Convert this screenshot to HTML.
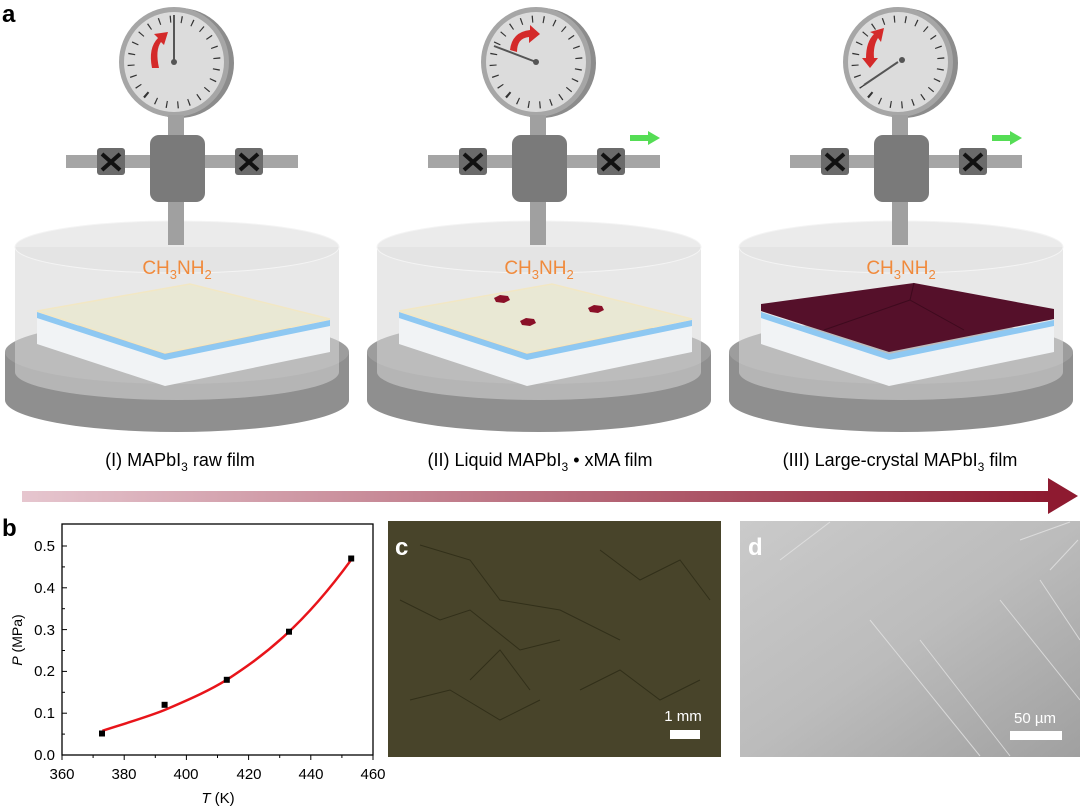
<!DOCTYPE html>
<html><head><meta charset="utf-8"><style>
html,body{margin:0;padding:0;background:#fff;}
svg{display:block;font-family:"Liberation Sans",sans-serif;}
</style></head><body>
<svg width="1080" height="808" viewBox="0 0 1080 808" xmlns="http://www.w3.org/2000/svg">
<defs>
<linearGradient id="ag" x1="0" x2="1" y1="0" y2="0">
<stop offset="0" stop-color="#e6c6cf"/><stop offset="1" stop-color="#8e1a30"/>
</linearGradient>
<linearGradient id="dg" x1="0" y1="0" x2="1" y2="1">
<stop offset="0" stop-color="#cacaca"/><stop offset="0.5" stop-color="#bcbcbc"/><stop offset="1" stop-color="#a0a0a0"/>
</linearGradient>
<g id="base">
  <path d="M5,352 L5,400 A172,32 0 0 0 349,400 L349,352 Z" fill="#8f8f8f"/>
  <ellipse cx="177" cy="352" rx="172" ry="32" fill="#9d9d9d"/>
  <path d="M15,247 L15,372 A162,28 0 0 0 339,372 L339,247 Z" fill="#d6d6d6" fill-opacity="0.55"/>
  <ellipse cx="177" cy="247" rx="162" ry="26" fill="#e2e2e2" fill-opacity="0.7" stroke="#f4f4f4" stroke-width="1"/>
  <circle cx="179" cy="63" r="55" fill="#8c8c8c"/>
  <circle cx="174" cy="62" r="55" fill="#a6a6a6"/>
  <circle cx="174" cy="62" r="50" fill="#dcdcdc"/>
  <circle cx="174" cy="62" r="43" fill="none" stroke="#333" stroke-width="7" stroke-dasharray="1.2 10" transform="rotate(130 174 62)"/>
  <rect x="168" y="115" width="16" height="25" fill="#a0a0a0"/>
  <rect x="66" y="155" width="232" height="13" fill="#a5a5a5"/>
  <rect x="97" y="148" width="28" height="27" rx="3" fill="#6b6b6b"/>
  <rect x="235" y="148" width="28" height="27" rx="3" fill="#6b6b6b"/>
  <path d="M102,154 L120,170 M120,154 L102,170 M240,154 L258,170 M258,154 L240,170" stroke="#111" stroke-width="4"/>
  <rect x="150" y="135" width="55" height="67" rx="9" fill="#7a7a7a"/>
  <rect x="168" y="202" width="16" height="43" fill="#a0a0a0"/>
  <path d="M37,316 L165,358 L330,324 L330,352 L165,386 L37,344 Z" fill="#f1f3f5"/>
  <path d="M37,312 L165,354 L330,320 L330,326 L165,360 L37,318 Z" fill="#8ec8f2"/>
</g>
</defs>

<text x="2" y="22" font-size="24" font-weight="bold">a</text>

<use href="#base"/>
<path d="M37,311 L190,284 L330,319 L165,353 Z" fill="#e9e8d4" stroke="#f2e7c4" stroke-width="1.5"/>
<line x1="174" y1="62" x2="174" y2="15" stroke="#555" stroke-width="2"/>
<circle cx="174" cy="62" r="3" fill="#555"/>
<path d="M152,68 Q148,48 158,38 L154,34 L168,32 L164,45 L161,42 Q155,50 159,68 Z" fill="#d42a2a"/>
<text x="177" y="274" font-size="19" fill="#f08a3c" text-anchor="middle">CH<tspan font-size="13" dy="5">3</tspan><tspan dy="-5">NH</tspan><tspan font-size="13" dy="5">2</tspan></text>
<text x="180" y="466" font-size="18" text-anchor="middle">(I) MAPbI<tspan font-size="12" dy="5">3</tspan><tspan dy="-5"> raw film</tspan></text>

<g transform="translate(362,0)">
<use href="#base"/>
<path d="M37,311 L190,284 L330,319 L165,353 Z" fill="#e9e8d4" stroke="#f2e7c4" stroke-width="1.5"/>
<line x1="174" y1="62" x2="132" y2="46" stroke="#555" stroke-width="2"/>
<circle cx="174" cy="62" r="3" fill="#555"/>
<path d="M148,50 Q150,32 168,30 L168,25 L178,34 L167,43 L167,37 Q155,38 155,52 Z" fill="#d42a2a"/>
<path d="M132,298 l6,-3 l8,1 l2,4 l-6,3 l-8,-1 Z" fill="#8a1028"/>
<path d="M226,308 l6,-3 l8,1 l2,4 l-6,3 l-8,-1 Z" fill="#8a1028"/>
<path d="M158,321 l6,-3 l8,1 l2,4 l-6,3 l-8,-1 Z" fill="#8a1028"/>
<rect x="268" y="135" width="20" height="6" fill="#55dd55"/><path d="M286,131 L298,138 L286,145 Z" fill="#55dd55"/>
<text x="177" y="274" font-size="19" fill="#f08a3c" text-anchor="middle">CH<tspan font-size="13" dy="5">3</tspan><tspan dy="-5">NH</tspan><tspan font-size="13" dy="5">2</tspan></text>
<text x="178" y="466" font-size="18" text-anchor="middle">(II) Liquid MAPbI<tspan font-size="12" dy="5">3</tspan><tspan dy="-5"> • xMA film</tspan></text>
</g>

<g transform="translate(724,0)">
<use href="#base"/>
<path d="M37,304 L190,283 L330,309 L330,319 L165,352 L37,311 Z" fill="#55102a"/>
<path d="M190,283 L186,300 L240,330 M186,300 L100,330" stroke="#3e0a1e" stroke-width="1" fill="none"/>
<line x1="174" y1="62" x2="140" y2="85" stroke="#555" stroke-width="2"/>
<circle cx="178" cy="60" r="3" fill="#555"/>
<path d="M142,58 Q142,42 150,34 L146,32 L160,28 L157,42 L154,38 Q149,46 150,58 L154,58 L146,68 L138,58 Z" fill="#d42a2a"/>
<rect x="268" y="135" width="20" height="6" fill="#55dd55"/><path d="M286,131 L298,138 L286,145 Z" fill="#55dd55"/>
<text x="177" y="274" font-size="19" fill="#f08a3c" text-anchor="middle">CH<tspan font-size="13" dy="5">3</tspan><tspan dy="-5">NH</tspan><tspan font-size="13" dy="5">2</tspan></text>
<text x="176" y="466" font-size="18" text-anchor="middle">(III) Large-crystal MAPbI<tspan font-size="12" dy="5">3</tspan><tspan dy="-5"> film</tspan></text>
</g>

<rect x="22" y="491" width="1030" height="11" fill="url(#ag)"/>
<path d="M1048,478 L1078,496 L1048,514 Z" fill="#8e1a30"/>

<text x="2" y="536" font-size="24" font-weight="bold">b</text>
<rect x="62" y="524" width="311" height="231" fill="none" stroke="#000" stroke-width="1.3"/>
<g stroke="#000" stroke-width="1">
<line x1="62" y1="755" x2="67" y2="755"/><line x1="62" y1="713.2" x2="67" y2="713.2"/><line x1="62" y1="671.4" x2="67" y2="671.4"/><line x1="62" y1="629.6" x2="67" y2="629.6"/><line x1="62" y1="587.8" x2="67" y2="587.8"/><line x1="62" y1="546" x2="67" y2="546"/>
<line x1="62" y1="734.1" x2="65" y2="734.1"/><line x1="62" y1="692.3" x2="65" y2="692.3"/><line x1="62" y1="650.5" x2="65" y2="650.5"/><line x1="62" y1="608.7" x2="65" y2="608.7"/><line x1="62" y1="566.9" x2="65" y2="566.9"/>
<line x1="62" y1="755" x2="62" y2="760"/><line x1="124.2" y1="755" x2="124.2" y2="760"/><line x1="186.4" y1="755" x2="186.4" y2="760"/><line x1="248.6" y1="755" x2="248.6" y2="760"/><line x1="310.8" y1="755" x2="310.8" y2="760"/><line x1="373" y1="755" x2="373" y2="760"/>
<line x1="93.1" y1="755" x2="93.1" y2="758"/><line x1="155.3" y1="755" x2="155.3" y2="758"/><line x1="217.5" y1="755" x2="217.5" y2="758"/><line x1="279.7" y1="755" x2="279.7" y2="758"/><line x1="341.9" y1="755" x2="341.9" y2="758"/>
</g>
<g font-size="15" text-anchor="end">
<text x="55" y="760">0.0</text><text x="55" y="718">0.1</text><text x="55" y="676">0.2</text><text x="55" y="635">0.3</text><text x="55" y="593">0.4</text><text x="55" y="551">0.5</text>
</g>
<g font-size="15" text-anchor="middle">
<text x="62" y="779">360</text><text x="124" y="779">380</text><text x="186" y="779">400</text><text x="249" y="779">420</text><text x="311" y="779">440</text><text x="373" y="779">460</text>
</g>
<text x="218" y="803" font-size="15" text-anchor="middle"><tspan font-style="italic">T</tspan> (K)</text>
<text transform="translate(22,640) rotate(-90)" font-size="14" text-anchor="middle"><tspan font-style="italic">P</tspan> (MPa)</text>
<path d="M102.4,730.8 C130,722 150,716 164.6,710 C195,697 210,690 226.8,679.8 C260,658 300,630 351.2,559.8" fill="none" stroke="#e8141a" stroke-width="2.5"/>
<g fill="#000">
<rect x="99" y="730.5" width="6" height="6"/><rect x="161.6" y="701.8" width="6" height="6"/><rect x="223.8" y="676.8" width="6" height="6"/><rect x="286" y="628.7" width="6" height="6"/><rect x="348.2" y="555.5" width="6" height="6"/>
</g>

<rect x="388" y="521" width="333" height="236" fill="#48442a"/>
<g stroke="#2c2a15" stroke-width="1" fill="none" opacity="0.8">
<path d="M420,545 L470,560 L500,600 L560,610 L620,640"/>
<path d="M400,600 L440,620 L470,610 L520,650 L560,640"/>
<path d="M410,700 L450,690 L500,720 L540,700"/>
<path d="M600,550 L640,580 L680,560 L710,600"/>
<path d="M470,680 L500,650 L530,690"/>
<path d="M580,690 L620,670 L660,700 L700,680"/>
</g>
<text x="395" y="555" font-size="24" font-weight="bold" fill="#fff">c</text>
<text x="683" y="721" font-size="15" fill="#fff" text-anchor="middle">1 mm</text>
<rect x="670" y="730" width="30" height="9" fill="#fff"/>

<rect x="740" y="521" width="340" height="236" fill="url(#dg)"/>
<g stroke="#e4e4e4" stroke-width="1" fill="none" opacity="0.8">
<path d="M780,560 L830,522"/><path d="M870,620 L980,756"/><path d="M920,640 L1010,756"/><path d="M1000,600 L1080,700"/><path d="M1040,580 L1080,640"/><path d="M1020,540 L1070,522"/><path d="M1050,570 L1078,540"/>
</g>
<text x="748" y="555" font-size="24" font-weight="bold" fill="#fff">d</text>
<text x="1035" y="723" font-size="15" fill="#fff" text-anchor="middle">50 µm</text>
<rect x="1010" y="731" width="52" height="9" fill="#fff"/>
</svg>
</body></html>
